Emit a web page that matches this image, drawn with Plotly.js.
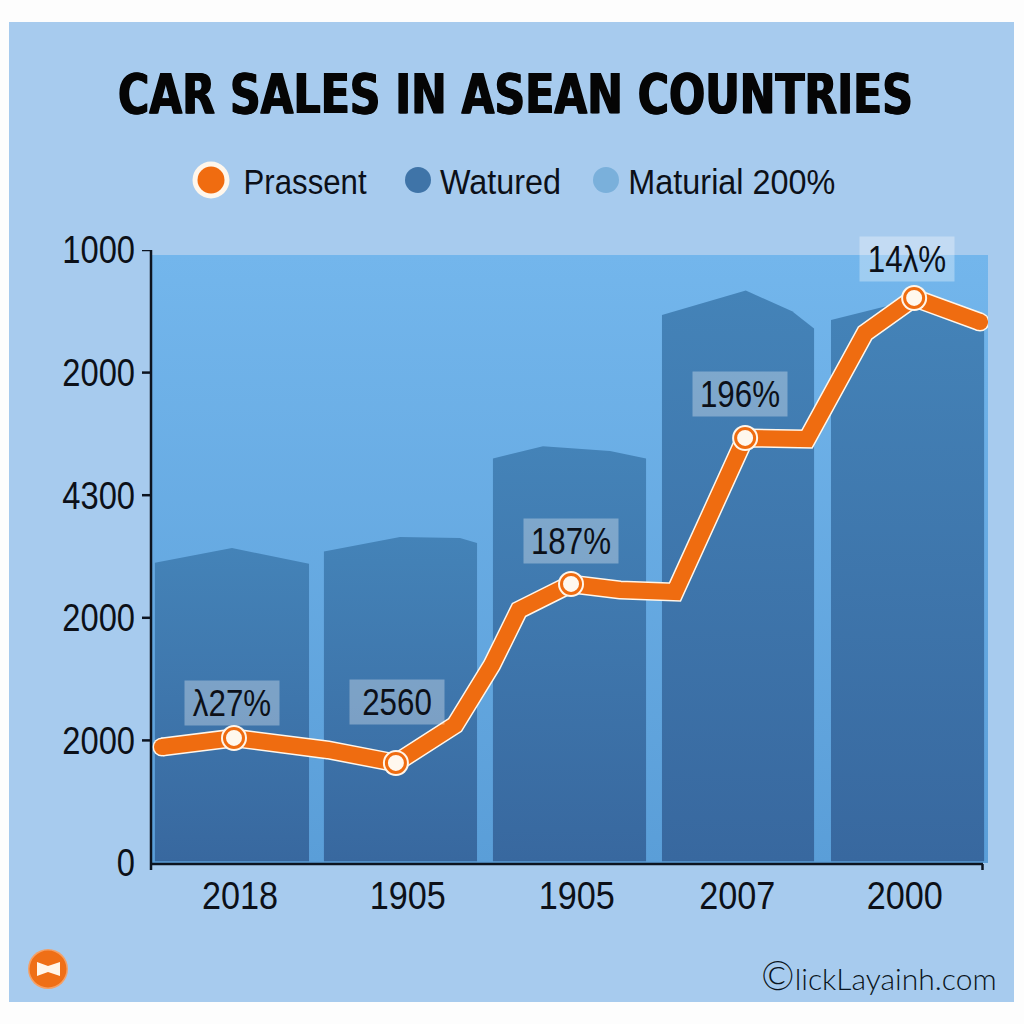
<!DOCTYPE html>
<html>
<head>
<meta charset="utf-8">
<script src="https://cdn.plot.ly/plotly-3.0.1.min.js"></script>
<style>html,body{margin:0;padding:0;background:#fff}</style>
</head>
<body>
<div id="plot1" style="width:1024px;height:1024px"></div>
<script>
// Labels as printed on the chart
var titleText = 'CAR SALES IN ASEAN COUNTRIES';
var yTickVals = [5,4,3,2,1,0];
var yTickText = ['1000','2000','4300','2000','2000','0'];
var xTickVals = [0.047,1.04,2.04,2.99,3.98];
var xTickText = ['2018','1905','1905','2007','2000'];
var seriesNames = ['Prassent','Watured','Maturial 200%'];

// Orange line
var lineX = [-0.414,0.012,0.568,0.970,1.320,1.538,1.698,2.006,2.296,2.621,3.036,3.402,3.746,4.036,4.426];
var lineY = [0.946,1.020,0.922,0.816,1.126,1.615,2.064,2.276,2.227,2.210,3.467,3.458,4.323,4.609,4.413];

// Points on the line that carry a label
var pointX = [0.012,0.970,2.006,3.036,4.036];
var pointY = [1.020,0.816,2.276,3.467,4.609];
var pointText = ['\u03bb27%','2560','187%','196%','14\u03bb%'];

// Blue columns, top edge only
var barX = [
	[-0.456,0,0.456],
	[0.544,0.994,1.349,1.450],
	[1.544,1.840,2.237,2.450],
	[2.544,3.040,3.314,3.444],
	[3.544,3.893,4.024,4.450]
];
var barTop = [
	[2.45,2.57,2.44],
	[2.54,2.66,2.65,2.61],
	[3.30,3.40,3.36,3.30],
	[4.47,4.67,4.50,4.36],
	[4.43,4.55,4.59,4.40]
];

// Pale band behind the columns
var bandX = [-0.473,4.479];
var bandTop = 4.96;

var W = 1024, H = 1024;
var sans = '"Liberation Sans",Arial,sans-serif';
var ink = '#0c1018';
var xLeft = -0.479, xRight = 4.473;

function px(x) { return x/W; }
function py(y) { return 1-y/H; }

function circle(cx,cy,r,color) {
	return {type:'circle',xref:'paper',yref:'paper',layer:'above',
		x0:px(cx-r),x1:px(cx+r),y0:py(cy+r),y1:py(cy-r),
		fillcolor:color,line:{width:0}};
}

function legendLabel(x,text) {
	return {xref:'paper',yref:'paper',x:px(x),y:py(181),xanchor:'center',yanchor:'middle',
		showarrow:false,text:text,font:{family:sans,size:35,color:ink}};
}

// the reference type is narrower than any installed face
function squeeze(el,len) {
	el.setAttribute('textLength',len);
	el.setAttribute('lengthAdjust','spacingAndGlyphs');
}
function squeezeAll(sel,factor) {
	document.querySelectorAll(sel).forEach(function(el){
		squeeze(el,el.getComputedTextLength()*factor);
	});
}
// title is wider than the page before squeezing, so scale it instead
function scaleTitle(len) {
	var el = document.querySelector('.gtitle');
	var cx = parseFloat(el.getAttribute('x'));
	var f = len/el.getComputedTextLength();
	el.setAttribute('transform','translate('+cx+',0) scale('+f+',1) translate('+(-cx)+',0)');
}

function drawPlot1() {
	var traces = [];

	traces.push({
		x:[bandX[0],bandX[0],bandX[1],bandX[1],bandX[0]],
		y:[0,bandTop,bandTop,0,0],
		mode:'none',type:'scatter',fill:'toself',hoverinfo:'skip',showlegend:false,
		fillgradient:{type:'vertical',colorscale:[[0,'#5a9ed8'],[1,'#73b6ec']]}
	});

	for (var i=0;i<barX.length;i++) {
		var xs = barX[i], ys = barTop[i];
		traces.push({
			x:[xs[0]].concat(xs,[xs[xs.length-1],xs[0]]),
			y:[0.015].concat(ys,[0.015,0.015]),
			name:seriesNames[1],
			mode:'none',type:'scatter',fill:'toself',hoverinfo:'skip',showlegend:false,
			fillgradient:{type:'vertical',colorscale:[[0,'#38689f'],[1,'#4483b8']]}
		});
	}

	// white edge under the orange line, end dots give it round caps
	var endSize = function(s) { return lineX.map(function(v,k){ return (k===0||k===lineX.length-1)?s:0; }); };
	traces.push({x:lineX,y:lineY,mode:'lines+markers',type:'scatter',showlegend:false,hoverinfo:'skip',
		line:{color:'#fff6ea',width:19},marker:{color:'#fff6ea',size:endSize(19),opacity:1,line:{width:0}}});
	traces.push({x:lineX,y:lineY,name:seriesNames[0],mode:'lines+markers',type:'scatter',showlegend:false,
		line:{color:'#ef6c10',width:16},marker:{color:'#ef6c10',size:endSize(16),opacity:1,line:{width:0}}});

	traces.push({x:pointX,y:pointY,mode:'markers',type:'scatter',showlegend:false,hoverinfo:'skip',
		marker:{color:'#fff6ea',size:26,line:{width:0}}});
	traces.push({x:pointX,y:pointY,mode:'markers',type:'scatter',showlegend:false,
		marker:{color:'#fff8ee',size:19,line:{color:'#ef6c10',width:3}}});

	var labelDx = [-2,1,0,-5,-7];
	var labelDy = [35,61,43,44,39];
	var annotations = pointText.map(function(t,k){
		return {x:pointX[k],y:pointY[k],xref:'x',yref:'y',xshift:labelDx[k],yshift:labelDy[k],
			showarrow:false,text:t,width:94,height:44,borderpad:0,
			bgcolor:'rgba(255,255,255,0.32)',font:{family:sans,size:36,color:ink}};
	});
	annotations.push(legendLabel(304.5,seriesNames[0]));
	annotations.push(legendLabel(500.5,seriesNames[1]));
	annotations.push(legendLabel(731.5,seriesNames[2]));
	annotations.push({xref:'paper',yref:'paper',x:px(999),y:py(975),xanchor:'right',yanchor:'middle',
		showarrow:false,text:'<span style="font-size:40px">\u00a9</span>lickLayainh.com',
		font:{family:'Lato,sans-serif',size:30,weight:300,color:'#0a1420'}});

	var shapes = [];
	// panel
	shapes.push({type:'rect',xref:'paper',yref:'paper',layer:'below',
		x0:px(9),x1:px(1014),y0:py(1002),y1:py(22),fillcolor:'#a7cbee',line:{width:0}});
	// axis lines and ticks
	var axisLine = {color:'#0c1420',width:2.5};
	shapes.push({type:'line',xref:'paper',yref:'paper',x0:px(151),x1:px(151),y0:py(870),y1:py(250),line:axisLine,layer:'above'});
	shapes.push({type:'line',xref:'paper',yref:'paper',x0:px(151),x1:px(983),y0:py(864),y1:py(864),line:axisLine,layer:'above'});
	shapes.push({type:'line',xref:'paper',yref:'paper',x0:px(982.5),x1:px(982.5),y0:py(870),y1:py(864),line:axisLine,layer:'above'});
	yTickVals.forEach(function(v){
		if (v===0) return;
		shapes.push({type:'line',xref:'paper',yref:'y',x0:px(142),x1:px(151),y0:v,y1:v,line:axisLine,layer:'above'});
	});
	// legend dots
	shapes.push(circle(211,180,18.5,'#fff7ec'));
	shapes.push(circle(211,180,13.5,'#f06c10'));
	shapes.push(circle(418,180,13,'#3f74a8'));
	shapes.push(circle(606,180,13,'#7ab0db'));
	// small badge, bottom left
	shapes.push(circle(48,969,20,'#f5a065'));
	shapes.push(circle(48,969,18.5,'#ef6f16'));
	shapes.push({type:'path',xref:'paper',yref:'paper',layer:'above',fillcolor:'#fff6ea',line:{width:0},
		path:'M '+px(37)+' '+py(962)+' L '+px(48)+' '+py(966)+' L '+px(60)+' '+py(962)+
			' L '+px(60)+' '+py(976)+' L '+px(48)+' '+py(972)+' L '+px(37)+' '+py(976)+' Z'});

	var layout = {
		width:W,height:H,
		margin:{l:0,r:0,t:0,b:0,pad:0},
		paper_bgcolor:'#fdfdfd',plot_bgcolor:'rgba(0,0,0,0)',
		showlegend:false,
		title:{text:titleText,xref:'paper',yref:'paper',x:px(515.5),y:py(93),xanchor:'center',yanchor:'middle',
			font:{family:'"DejaVu Sans Condensed","DejaVu Sans",sans-serif',size:56,color:'#050505',weight:700,
				shadow:'0.8px 0 0 #050505, -0.8px 0 0 #050505'}},
		xaxis:{
			domain:[px(151),px(988)],range:[xLeft,xRight],
			tickmode:'array',tickvals:xTickVals,ticktext:xTickText,ticks:'',
			showgrid:false,zeroline:false,showline:false,
			ticklabelstandoff:7,
			tickfont:{family:sans,size:38,color:ink}
		},
		yaxis:{
			domain:[py(863),py(250)],range:[0,5],
			tickmode:'array',tickvals:yTickVals,ticktext:yTickText,ticks:'',
			showgrid:false,zeroline:false,showline:false,
			ticklabelstandoff:15,
			tickfont:{family:sans,size:38,color:ink}
		},
		shapes:shapes,
		annotations:annotations
	};
	Plotly.newPlot('plot1',traces,layout,{displayModeBar:false,staticPlot:true}).then(function(){
		squeezeAll('.xtick text',0.9);
		squeezeAll('.ytick text',0.86);
		scaleTitle(795);
		var notes = document.querySelectorAll('.annotation-text');
		pointText.forEach(function(t,k){ squeeze(notes[k],notes[k].getComputedTextLength()*0.87); });
		[123,121,207].forEach(function(len,k){ squeeze(notes[pointText.length+k],len); });
	});
}

drawPlot1();
</script>
</body>
</html>
